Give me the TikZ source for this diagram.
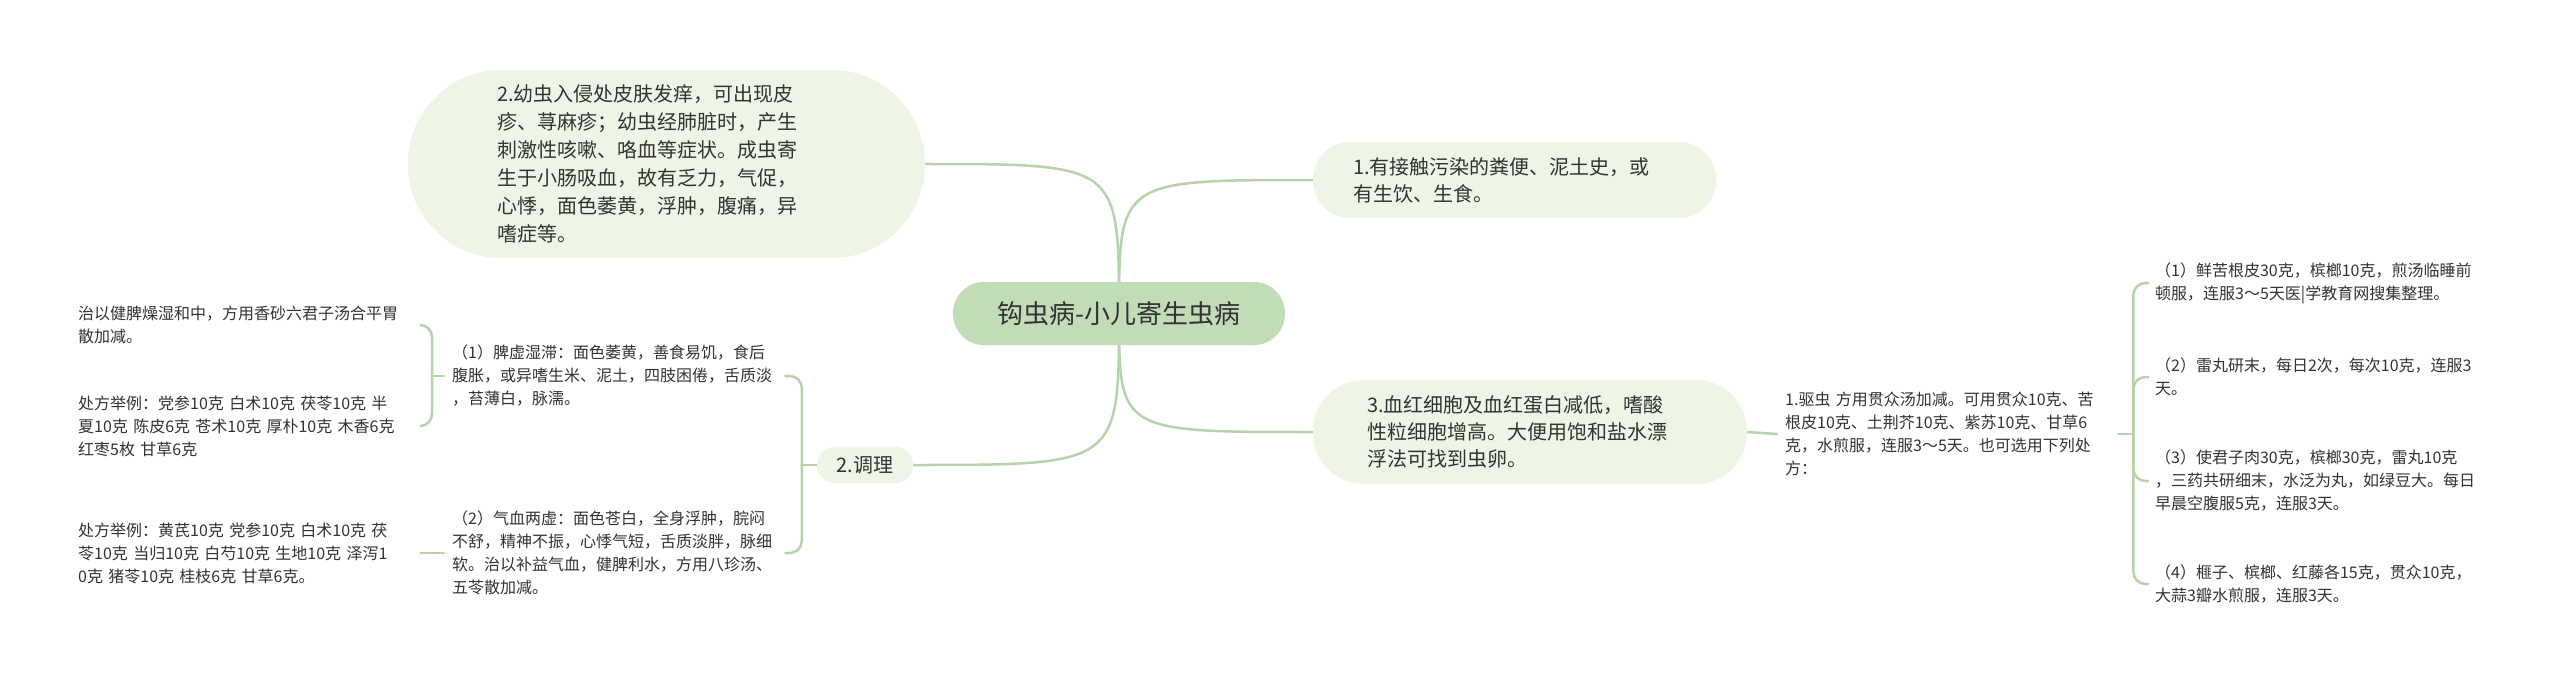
\documentclass[tikz,border=0pt]{standalone}
\usepackage{fontspec}
\setmainfont{Noto Sans CJK SC}
\usetikzlibrary{calc,backgrounds}
\definecolor{rootc}{HTML}{C2DCB8}
\definecolor{lonec}{HTML}{EEF5E7}
\definecolor{linec}{HTML}{B8D2AC}
\definecolor{txt}{HTML}{333333}
\begin{document}
\begin{tikzpicture}[x=1pt,y=-1pt,
  every node/.style={text=txt},
  rootbox/.style={fill=rootc, rounded corners=31pt, minimum width=332pt, minimum height=63pt,
    font=\fontsize{26}{32}\selectfont, inner sep=0pt},
  lonebox/.style={fill=lonec, align=left, inner sep=4pt, font=\fontsize{20}{27}\selectfont},
  leaf/.style={anchor=west, align=left, inner xsep=6pt, inner ysep=3pt, text width=336pt,
    font=\fontsize{16}{23}\selectfont},
  midleaf/.style={leaf, inner xsep=8pt, text width=325pt},
  rleaf/.style={leaf, inner xsep=7pt, text width=330pt},
  conn/.style={draw=linec, line width=2.5pt, line cap=round}]
\useasboundingbox (0,0) rectangle (2560,682);

\node[rootbox] (root) at (1119,313.5) {钩虫病-小儿寄生虫病};

\node[lonebox, minimum width=517pt, minimum height=188pt, rounded corners=93pt, text width=339pt,
  font=\fontsize{20}{28}\selectfont] (a) at (666.5,164)
  {2.幼虫入侵处皮肤发痒，可出现皮\\疹、荨麻疹；幼虫经肺脏时，产生\\刺激性咳嗽、咯血等症状。成虫寄\\生于小肠吸血，故有乏力，气促，\\心悸，面色萎黄，浮肿，腹痛，异\\嗜症等。};

\node[lonebox, minimum width=403pt, minimum height=76pt, rounded corners=37pt, text width=323pt] (b) at (1514.5,180)
  {1.有接触污染的粪便、泥土史，或\\有生饮、生食。};

\node[lonebox, minimum width=434pt, minimum height=104pt, rounded corners=51pt, text width=326pt] (c) at (1530,432)
  {3.血红细胞及血红蛋白减低，嗜酸\\性粒细胞增高。大便用饱和盐水漂\\浮法可找到虫卵。};

\node[lonebox, align=center, minimum width=96pt, minimum height=36pt, rounded corners=17.5pt] (d) at (865,465) {2.调理};

\node[midleaf] (d1) at (444,376)
  {（1）脾虚湿滞：面色萎黄，善食易饥，食后\\腹胀，或异嗜生米、泥土，四肢困倦，舌质淡\\，苔薄白，脉濡。};
\node[midleaf] (d2) at (444,553)
  {（2）气血两虚：面色苍白，全身浮肿，脘闷\\不舒，精神不振，心悸气短，舌质淡胖，脉细\\软。治以补益气血，健脾利水，方用八珍汤、\\五苓散加减。};

\node[leaf] (l1a) at (72,325)
  {治以健脾燥湿和中，方用香砂六君子汤合平胃\\散加减。};
\node[leaf] (l1b) at (72,426)
  {处方举例：党参10克 白术10克 茯苓10克 半\\夏10克 陈皮6克 苍术10克 厚朴10克 木香6克\\红枣5枚 甘草6克};
\node[leaf] (l2) at (72,553)
  {处方举例：黄芪10克 党参10克 白术10克 茯\\苓10克 当归10克 白芍10克 生地10克 泽泻1\\0克 猪苓10克 桂枝6克 甘草6克。};

\node[midleaf] (r0) at (1777,434)
  {1.驱虫 方用贯众汤加减。可用贯众10克、苦\\根皮10克、土荆芥10克、紫苏10克、甘草6\\克，水煎服，连服3～5天。也可选用下列处\\方：};

\node[rleaf] (r1) at (2148,283)
  {（1）鲜苦根皮30克，槟榔10克，煎汤临睡前\\顿服，连服3～5天医|学教育网搜集整理。};
\node[rleaf] (r2) at (2148,377)
  {（2）雷丸研末，每日2次，每次10克，连服3\\天。};
\node[rleaf] (r3) at (2148,481)
  {（3）使君子肉30克，槟榔30克，雷丸10克\\，三药共研细末，水泛为丸，如绿豆大。每日\\早晨空腹服5克，连服3天。};
\node[rleaf] (r4) at (2148,584)
  {（4）榧子、槟榔、红藤各15克，贯众10克，\\大蒜3瓣水煎服，连服3天。};

\begin{pgfonlayer}{background}
\fill[white] (0,0) rectangle (2560,682);
\draw[conn] (root.center) .. controls (root.center |- a.east) .. (a.east);
\draw[conn] (root.center) .. controls (root.center |- b.west) .. (b.west);
\draw[conn] (root.center) .. controls (root.center |- c.west) .. (c.west);
\draw[conn] (root.center) .. controls (root.center |- d.east) .. (d.east);

\coordinate (dbx) at ($(d.west)+(-15,0)$);
\draw[conn] (d.west) -- (dbx);
\draw[conn, rounded corners=12pt] (dbx) |- (d1.east);
\draw[conn, rounded corners=12pt] (dbx) |- (d2.east);

\coordinate (d1bx) at ($(d1.west)+(-12,0)$);
\draw[conn] (d1.west) -- (d1bx);
\draw[conn, rounded corners=12pt] (d1bx) |- (l1a.east);
\draw[conn, rounded corners=12pt] (d1bx) |- (l1b.east);

\draw[conn] (d2.west) -- (l2.east);

\draw[conn] (c.east) -- (r0.west);
\coordinate (rbx) at ($(r0.east)+(15,0)$);
\draw[conn] (r0.east) -- (rbx);
\draw[conn, rounded corners=12pt] (rbx) |- (r1.west);
\draw[conn, rounded corners=12pt] (rbx) |- (r2.west);
\draw[conn, rounded corners=12pt] (rbx) |- (r3.west);
\draw[conn, rounded corners=12pt] (rbx) |- (r4.west);
\end{pgfonlayer}
\end{tikzpicture}
\end{document}
